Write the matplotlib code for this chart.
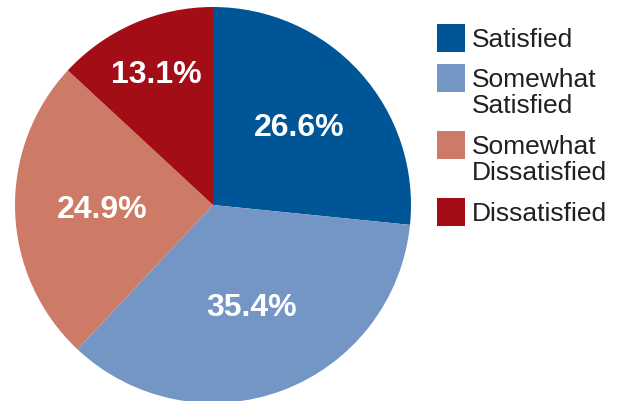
import numpy as np
import matplotlib.pyplot as plt
from matplotlib.patches import Rectangle

labels = ["Satisfied", "Somewhat\nSatisfied", "Somewhat\nDissatisfied", "Dissatisfied"]
shares = [26.6, 35.4, 24.9, 13.1]
colors = ["#005596", "#7496C4", "#CD7B66", "#A30D15"]
pct_text = ["26.6%", "35.4%", "24.9%", "13.1%"]


def main():
    plt.rcParams['font.family'] = ['Liberation Sans', 'DejaVu Sans']
    W, H = 621, 402
    fig = plt.figure(figsize=(W / 100, H / 100), dpi=100)

    # square box for the pie, in pixels from the top left
    px, py, size = 15, 8, 396
    ax = fig.add_axes([px / W, (H - py - size) / H, size / W, size / H])
    wedges, _ = ax.pie(shares, colors=colors, startangle=90, counterclock=False,
                       radius=1.0, wedgeprops=dict(linewidth=0))
    ax.set_xlim(-1, 1)
    ax.set_ylim(-1, 1)
    ax.set_aspect('equal')
    ax.axis('off')

    dists = [0.59, 0.55, 0.56, 0.72]
    for w, t, d in zip(wedges, pct_text, dists):
        ang = np.deg2rad((w.theta1 + w.theta2) / 2)
        ax.text(d * np.cos(ang), d * np.sin(ang), t, color="white",
                fontsize=23, fontweight="bold", ha="center", va="center")

    # legend drawn by hand: boxes line up with the first text line
    tops = [25, 65, 132, 199]
    for top, lab, c in zip(tops, labels, colors):
        fig.add_artist(Rectangle((437 / W, (H - top - 28) / H), 28 / W, 28 / H,
                                 transform=fig.transFigure, color=c, lw=0))
        for i, line in enumerate(lab.split("\n")):
            fig.text(472 / W, (H - top - 22 - 26 * i) / H, line, fontsize=19,
                     color="#231F20", ha="left", va="baseline")

    fig.savefig("out.png", dpi=100)


if __name__ == '__main__': main()
